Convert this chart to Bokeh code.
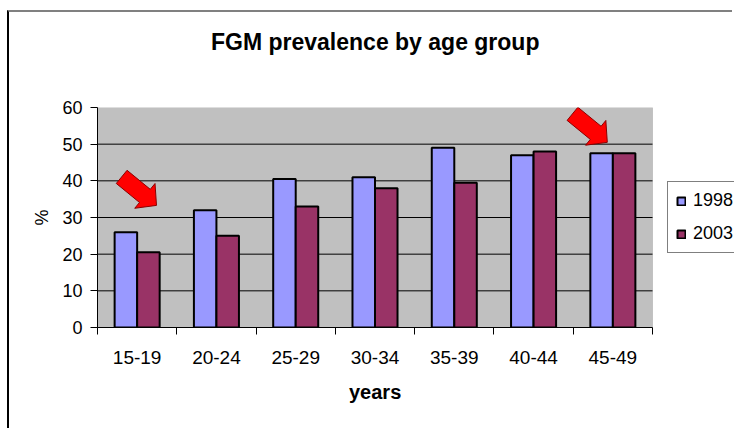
import math
from bokeh.plotting import figure
from bokeh.models import (FixedTicker, Legend, LegendItem, Title, BoxAnnotation,
                          ColumnDataSource, Range1d)
from bokeh.embed import file_html
from bokeh.resources import INLINE

# ---- data ----
age_groups = ["15-19", "20-24", "25-29", "30-34", "35-39", "40-44", "45-49"]
series_names = ["1998", "2003"]
values_1998 = [26, 32, 40.5, 41, 49, 47, 47.5]
values_2003 = [20.5, 25, 33, 38, 39.5, 48, 47.5]
y_ticks = [0, 10, 20, 30, 40, 50, 60]
title_text = "FGM prevalence by age group"
x_title = "years"
y_title = "%"

# arrows pointing at highlighted groups (tip position: group, offset, value)
arrow_tips = [("15-19", 0.244, 33.3), ("45-49", -0.07, 50.5)]

COL_1998 = "#9999FF"
COL_2003 = "#993366"
FONT = "Liberation Sans"

# page geometry (canvas starts after CSS borders that reproduce the picture frame)
OFF_X, OFF_Y = 9, 12
W = 734 - OFF_X
H = 430 - OFF_Y
PLOT_L, PLOT_R, PLOT_T, PLOT_B = 97, 652, 107, 327   # grey plot area in page px
BL = PLOT_L - OFF_X
BT = PLOT_T - OFF_Y
BB = 430 - PLOT_B
BR = 0   # frame runs to the right edge so the legend can sit outside the grey area

n = len(age_groups)
px_x = (PLOT_R - PLOT_L) / n
px_y = (PLOT_B - PLOT_T) / (y_ticks[-1] - y_ticks[0])
x_end = (734 - PLOT_L) / px_x
mid_px = (PLOT_R - PLOT_L) / 2          # centre of grey area, from frame left

centers = [i + 0.5 for i in range(n)]
bw = 0.284

src = ColumnDataSource(dict(
    x1=[c - bw / 2 for c in centers],
    x2=[c + bw / 2 for c in centers],
    v1=values_1998, v2=values_2003,
))

p = figure(width=W, height=H, output_backend="svg", toolbar_location=None,
           x_range=Range1d(0, x_end), y_range=Range1d(y_ticks[0], y_ticks[-1]),
           min_border_left=BL, min_border_right=BR, min_border_top=BT,
           min_border_bottom=BB)
p.styles = {"margin-left": "7px", "margin-top": "10px",
            "border-left": "2px solid black", "border-top": "2px solid #808080"}

p.background_fill_color = "white"
p.border_fill_color = "white"
p.outline_line_color = None

# grey plot area
p.add_layout(BoxAnnotation(left=0, right=n, bottom=y_ticks[0], top=y_ticks[-1],
                           fill_color="#C0C0C0", fill_alpha=1,
                           line_color="#808080", line_width=1, level="underlay"))

# titles (spacer first = closest to frame); centred over the grey area
TITLE_W = 328   # rendered width of the title at 23px bold
p.title.text = ""
p.add_layout(Title(text=" ", text_font_size="41px", standoff=0), "above")
p.add_layout(Title(text=title_text, align="left", offset=mid_px - TITLE_W / 2,
                   text_font=FONT, text_font_size="23px", text_font_style="bold",
                   text_color="black"), "above")

# horizontal grid lines limited to the plot area
p.xgrid.grid_line_color = None
p.ygrid.grid_line_color = None
p.segment(x0=[0] * (len(y_ticks) - 2), x1=[n] * (len(y_ticks) - 2),
          y0=y_ticks[1:-1], y1=y_ticks[1:-1], line_color="black", line_width=1)

r1 = p.vbar(x="x1", top="v1", width=bw, bottom=0, source=src,
            fill_color=COL_1998, line_color="black", line_width=2)
r2 = p.vbar(x="x2", top="v2", width=bw, bottom=0, source=src,
            fill_color=COL_2003, line_color="black", line_width=2)

# y axis
ya = p.yaxis[0]
ya.ticker = FixedTicker(ticks=y_ticks)
ya.axis_line_color = "black"
ya.major_tick_line_color = "black"
ya.major_tick_out = 7
ya.major_tick_in = 0
ya.minor_tick_line_color = None
ya.major_label_text_font = FONT
ya.major_label_text_font_size = "18px"
ya.major_label_text_color = "black"
ya.major_label_standoff = 8
ya.axis_label = y_title
ya.axis_label_text_font = FONT
ya.axis_label_text_font_size = "18px"
ya.axis_label_text_font_style = "normal"
ya.axis_label_text_color = "black"
ya.axis_label_standoff = 7

# x axis
xa = p.xaxis[0]
xa.bounds = (0, n)
xa.ticker = FixedTicker(ticks=centers, minor_ticks=list(range(n + 1)))
xa.major_label_overrides = {c: g for c, g in zip(centers, age_groups)}
xa.axis_line_color = "black"
xa.major_tick_line_color = None
xa.major_tick_out = 0
xa.major_tick_in = 0
xa.minor_tick_line_color = "black"
xa.minor_tick_out = 7
xa.minor_tick_in = 0
xa.major_label_text_font = FONT
xa.major_label_text_font_size = "19px"
xa.major_label_text_color = "black"
xa.major_label_standoff = 16

# x axis title as a below-panel title, centred on the grey area
XT_W = 52   # rendered width of "years" at 20px bold
p.add_layout(Title(text=x_title, align="left", offset=mid_px - XT_W / 2,
                   standoff=25, text_font=FONT, text_font_size="20px",
                   text_font_style="bold", text_color="black"), "below")

# legend just right of the grey area (runs past the edge as in the original)
legend = Legend(items=[LegendItem(label=series_names[0], renderers=[r1]),
                       LegendItem(label=series_names[1], renderers=[r2])],
                location=(667 - PLOT_L, PLOT_B - 253))
legend.border_line_color = "black"
legend.border_line_width = 1
legend.background_fill_color = "white"
legend.background_fill_alpha = 1
legend.label_text_font = FONT
legend.label_text_font_size = "18px"
legend.label_text_color = "black"
legend.glyph_width = 10
legend.glyph_height = 10
legend.label_standoff = 7
legend.padding = 8
legend.spacing = 12
legend.margin = 0
p.add_layout(legend, "center")

# arrows (block arrows drawn as patches, shape defined in pixels)
L, hw_shaft, hw_head, head_len = 45, 8.5, 16, 15
ang = math.atan2(28.5, 34.8)
dxu, dyu = math.cos(ang), math.sin(ang)  # screen direction (y down)
nxu, nyu = -dyu, dxu
xs_all, ys_all = [], []
for grp, off, val in arrow_tips:
    tx = age_groups.index(grp) + 0.5 + off
    ty = val
    pts = [(-L, hw_shaft), (-head_len, hw_shaft), (-head_len, hw_head), (0, 0),
           (-head_len, -hw_head), (-head_len, -hw_shaft), (-L, -hw_shaft)]
    xs, ys = [], []
    for a, b in pts:
        sx = a * dxu + b * nxu
        sy = a * dyu + b * nyu
        xs.append(tx + sx / px_x)
        ys.append(ty - sy / px_y)
    xs_all.append(xs)
    ys_all.append(ys)
p.patches(xs_all, ys_all, fill_color="#FF0000", line_color="#8B0000", line_width=1)

open("out.html", "w").write(file_html(p, INLINE))
